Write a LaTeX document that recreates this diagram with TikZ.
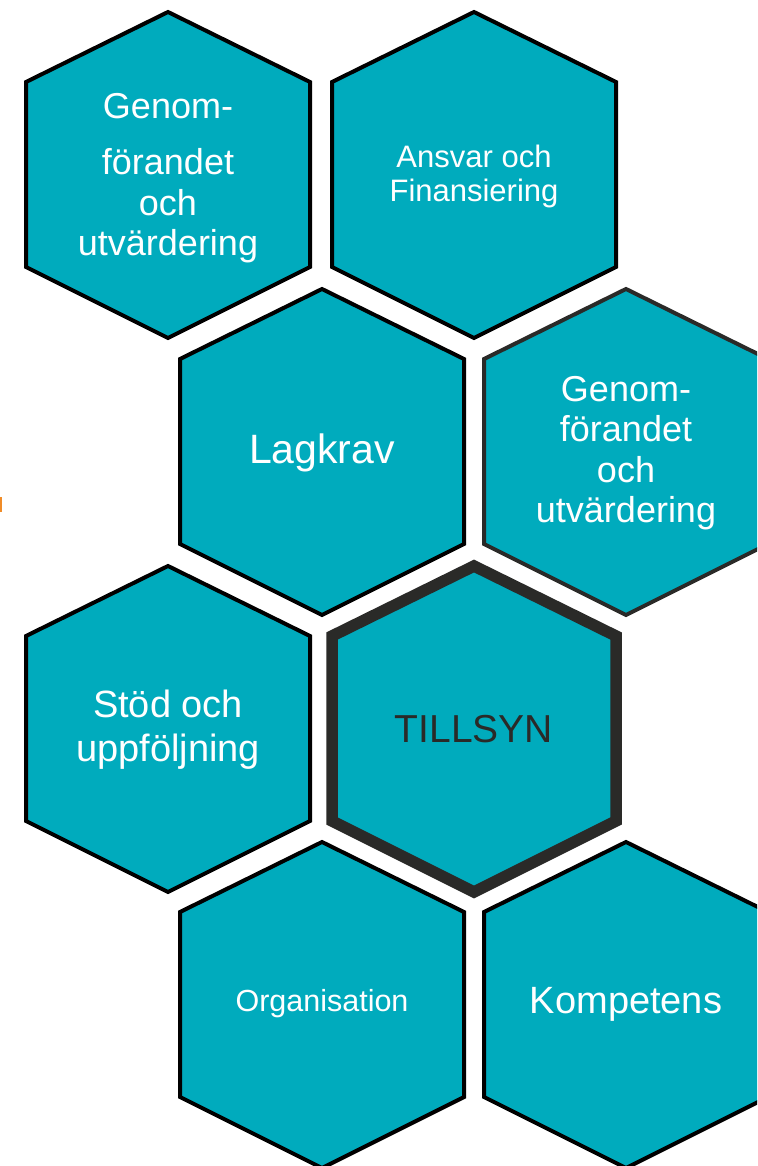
\documentclass[tikz,border=0pt]{standalone}
\usepackage{fontspec}
\setmainfont{Liberation Sans}
\definecolor{teal1}{RGB}{0,171,189}
\definecolor{dark1}{RGB}{42,42,40}
\definecolor{orng}{RGB}{240,140,40}
\tikzset{
  hexfill/.style={fill=teal1, draw=black, line width=4pt, line join=miter},
  hexdark/.style={fill=teal1, draw=dark1, line width=4pt, line join=miter},
  hexthick/.style={fill=teal1, draw=dark1, line width=11.5pt, line join=miter},
  lbl/.style={text=white, align=center, inner sep=0pt},
}
\newcommand{\hexat}[2]{%
  \draw[#1, shift={#2}] (0,163) -- (142,93) -- (142,-92) -- (0,-163) -- (-142,-92) -- (-142,93) -- cycle;}
\begin{document}
\begin{tikzpicture}[x=1pt,y=1pt]
\useasboundingbox (0,0) rectangle (757,-1166);
\clip (0,0) rectangle (757,-1166);
\fill[white] (0,0) rectangle (757,-1166);
\hexat{hexfill}{(168,-175)}
\hexat{hexfill}{(474,-175)}
\hexat{hexfill}{(322,-452)}
\hexat{hexdark}{(626,-452)}
\hexat{hexfill}{(168,-729)}
\hexat{hexthick}{(474,-729)}
\hexat{hexfill}{(322,-1005)}
\hexat{hexfill}{(626,-1005)}
\fill[orng] (-3,-497) rectangle (2,-512);
\node[lbl, font=\fontsize{36}{40.5}\selectfont] (t1) at (168,-178) {Genom-\\[16pt]förandet\\och\\utvärdering};
\node[lbl, font=\fontsize{31}{34}\selectfont] (t2) at (474,-176) {Ansvar och\\Finansiering};
\node[lbl, font=\fontsize{41}{44}\selectfont] (t3) at (322,-453) {Lagkrav};
\node[lbl, font=\fontsize{36}{40.5}\selectfont] (t4) at (626,-453) {Genom-\\förandet\\och\\utvärdering};
\node[lbl, font=\fontsize{38}{44}\selectfont] (t5) at (168,-730) {Stöd och\\uppföljning};
\node[lbl, text=dark1, font=\fontsize{39}{44}\selectfont] (t6) at (474,-729) {TILLSYN};
\node[lbl, font=\fontsize{30.5}{34}\selectfont] (t7) at (322,-1004) {Organisation};
\node[lbl, font=\fontsize{38}{44}\selectfont] (t8) at (626,-1004) {Kompetens};
\end{tikzpicture}
\end{document}
